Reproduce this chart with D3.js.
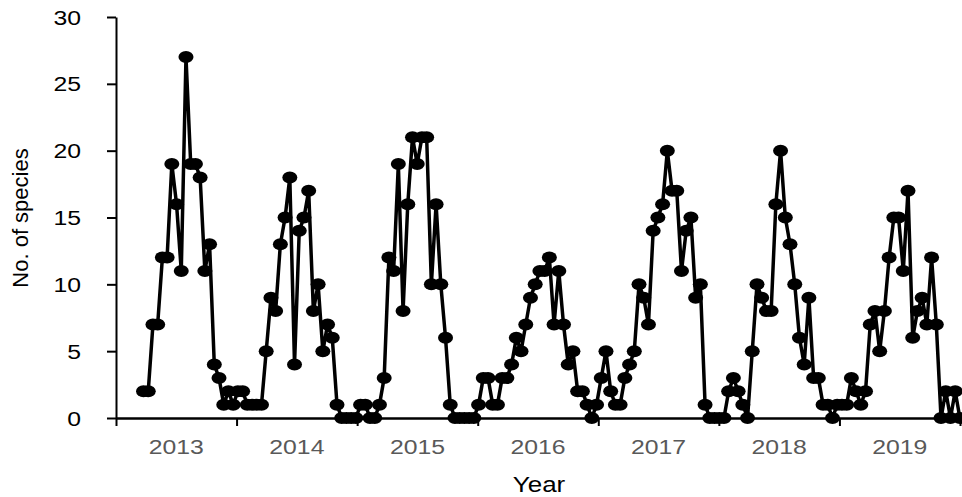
<!DOCTYPE html>
<html>
<head>
<meta charset="utf-8">
<script src="https://cdn.jsdelivr.net/npm/d3@7"></script>
<style>
  html, body { margin: 0; padding: 0; background: #ffffff; }
  svg { display: block; }
  text { font-family: "Liberation Sans", Arial, sans-serif; }
</style>
</head>
<body>
<svg id="chart" width="962" height="497"></svg>
<script>
// Fortnightly species counts, first sample late March 2013, last at the end of 2019
const speciesCounts = [
  2, 2, 7, 7, 12, 12, 19, 16, 11, 27, 19, 19, 18, 11, 13, 4, 3,
  1, 2, 1, 2, 2, 1, 1, 1, 1,
  5, 9, 8, 13, 15, 18, 4, 14, 15, 17, 8, 10, 5, 7, 6, 1,
  0, 0, 0, 0, 1, 1, 0, 0, 1, 3,
  12, 11, 19, 8, 16, 21, 19, 21, 21, 10, 16, 10, 6, 1,
  0, 0, 0, 0, 0, 1, 3, 3, 1, 1, 3, 3,
  4, 6, 5, 7, 9, 10, 11, 11, 12, 7, 11, 7, 4, 5, 2, 2, 1, 0, 1, 3, 5, 2, 1, 1, 3, 4, 5,
  10, 9, 7, 14, 15, 16, 20, 17, 17, 11, 14, 15, 9, 10, 1,
  0, 0, 0, 0, 2, 3, 2, 1, 0,
  5, 10, 9, 8, 8, 16, 20, 15, 13, 10, 6, 4, 9, 3, 3,
  1, 1, 0, 1, 1, 1, 3, 2, 1, 2,
  7, 8, 5, 8, 12, 15, 15, 11, 17, 6, 8, 9, 7, 12, 7,
  0, 2, 0, 2, 0
];

const yearLabels = ["2013", "2014", "2015", "2016", "2017", "2018", "2019"];
const yearBoundaries = [2013, 2014, 2015, 2016, 2017, 2018, 2019, 2020];
const yTicks = [0, 5, 10, 15, 20, 25, 30];

// Sampling calendar: roughly 25.5 samples a year, starting ~5.8 intervals into 2013
const samplesPerYear = 25.55;
const firstSampleOffset = 5.83;
const sampleTime = i => 2013 + (i + firstSampleOffset) / samplesPerYear;

const svg = d3.select("#chart");

const x = d3.scaleLinear().domain([2013, 2020.0166]).range([116, 962]);
const y = d3.scaleLinear().domain([0, 30]).range([418, 17]);

const textStretch = 1.18;

// Y axis
const yAxis = svg.append("g")
  .attr("transform", `translate(${x(2013)},0)`)
  .call(d3.axisLeft(y).tickValues(yTicks).tickSize(9).tickSizeOuter(0).tickFormat(""));
yAxis.select(".domain").attr("stroke", "#000").attr("stroke-width", 2);
yAxis.selectAll(".tick line").attr("stroke", "#000").attr("stroke-width", 2);

svg.append("g").selectAll("text")
  .data(yTicks)
  .join("text")
  .attr("transform", d => `translate(81,${y(d)}) scale(${textStretch},1)`)
  .attr("dy", "0.36em")
  .attr("text-anchor", "end")
  .attr("font-size", 21)
  .attr("fill", "#000")
  .text(d => d);

// X axis: ticks at year boundaries, labels centred inside each year
const xAxis = svg.append("g")
  .attr("transform", `translate(0,${y(0)})`)
  .call(d3.axisBottom(x).tickValues(yearBoundaries).tickSize(8).tickSizeOuter(0).tickFormat(""));
xAxis.select(".domain").attr("stroke", "#000").attr("stroke-width", 2.5);
xAxis.selectAll(".tick line").attr("stroke", "#000").attr("stroke-width", 2);

svg.append("g").selectAll("text")
  .data(yearLabels)
  .join("text")
  .attr("transform", d => `translate(${x(+d + 0.5)},454) scale(${textStretch},1)`)
  .attr("text-anchor", "middle")
  .attr("font-size", 21)
  .attr("fill", "#595959")
  .text(d => d);

// Axis titles
svg.append("text")
  .attr("transform", `translate(${(116 + 962) / 2},492) scale(${textStretch},1)`)
  .attr("text-anchor", "middle")
  .attr("font-size", 22)
  .attr("fill", "#000")
  .text("Year");

svg.append("text")
  .attr("transform", `translate(28,218) rotate(-90)`)
  .attr("text-anchor", "middle")
  .attr("font-size", 22)
  .attr("fill", "#000")
  .text("No. of species");

// Series line and markers
const line = d3.line()
  .x((d, i) => x(sampleTime(i)))
  .y(d => y(d));

svg.append("path")
  .datum(speciesCounts)
  .attr("d", line)
  .attr("fill", "none")
  .attr("stroke", "#000")
  .attr("stroke-width", 3.5)
  .attr("stroke-linejoin", "round");

svg.append("g").selectAll("ellipse")
  .data(speciesCounts)
  .join("ellipse")
  .attr("cx", (d, i) => x(sampleTime(i)))
  .attr("cy", d => y(d))
  .attr("rx", 7.5)
  .attr("ry", 6)
  .attr("fill", "#000");
</script>
</body>
</html>
